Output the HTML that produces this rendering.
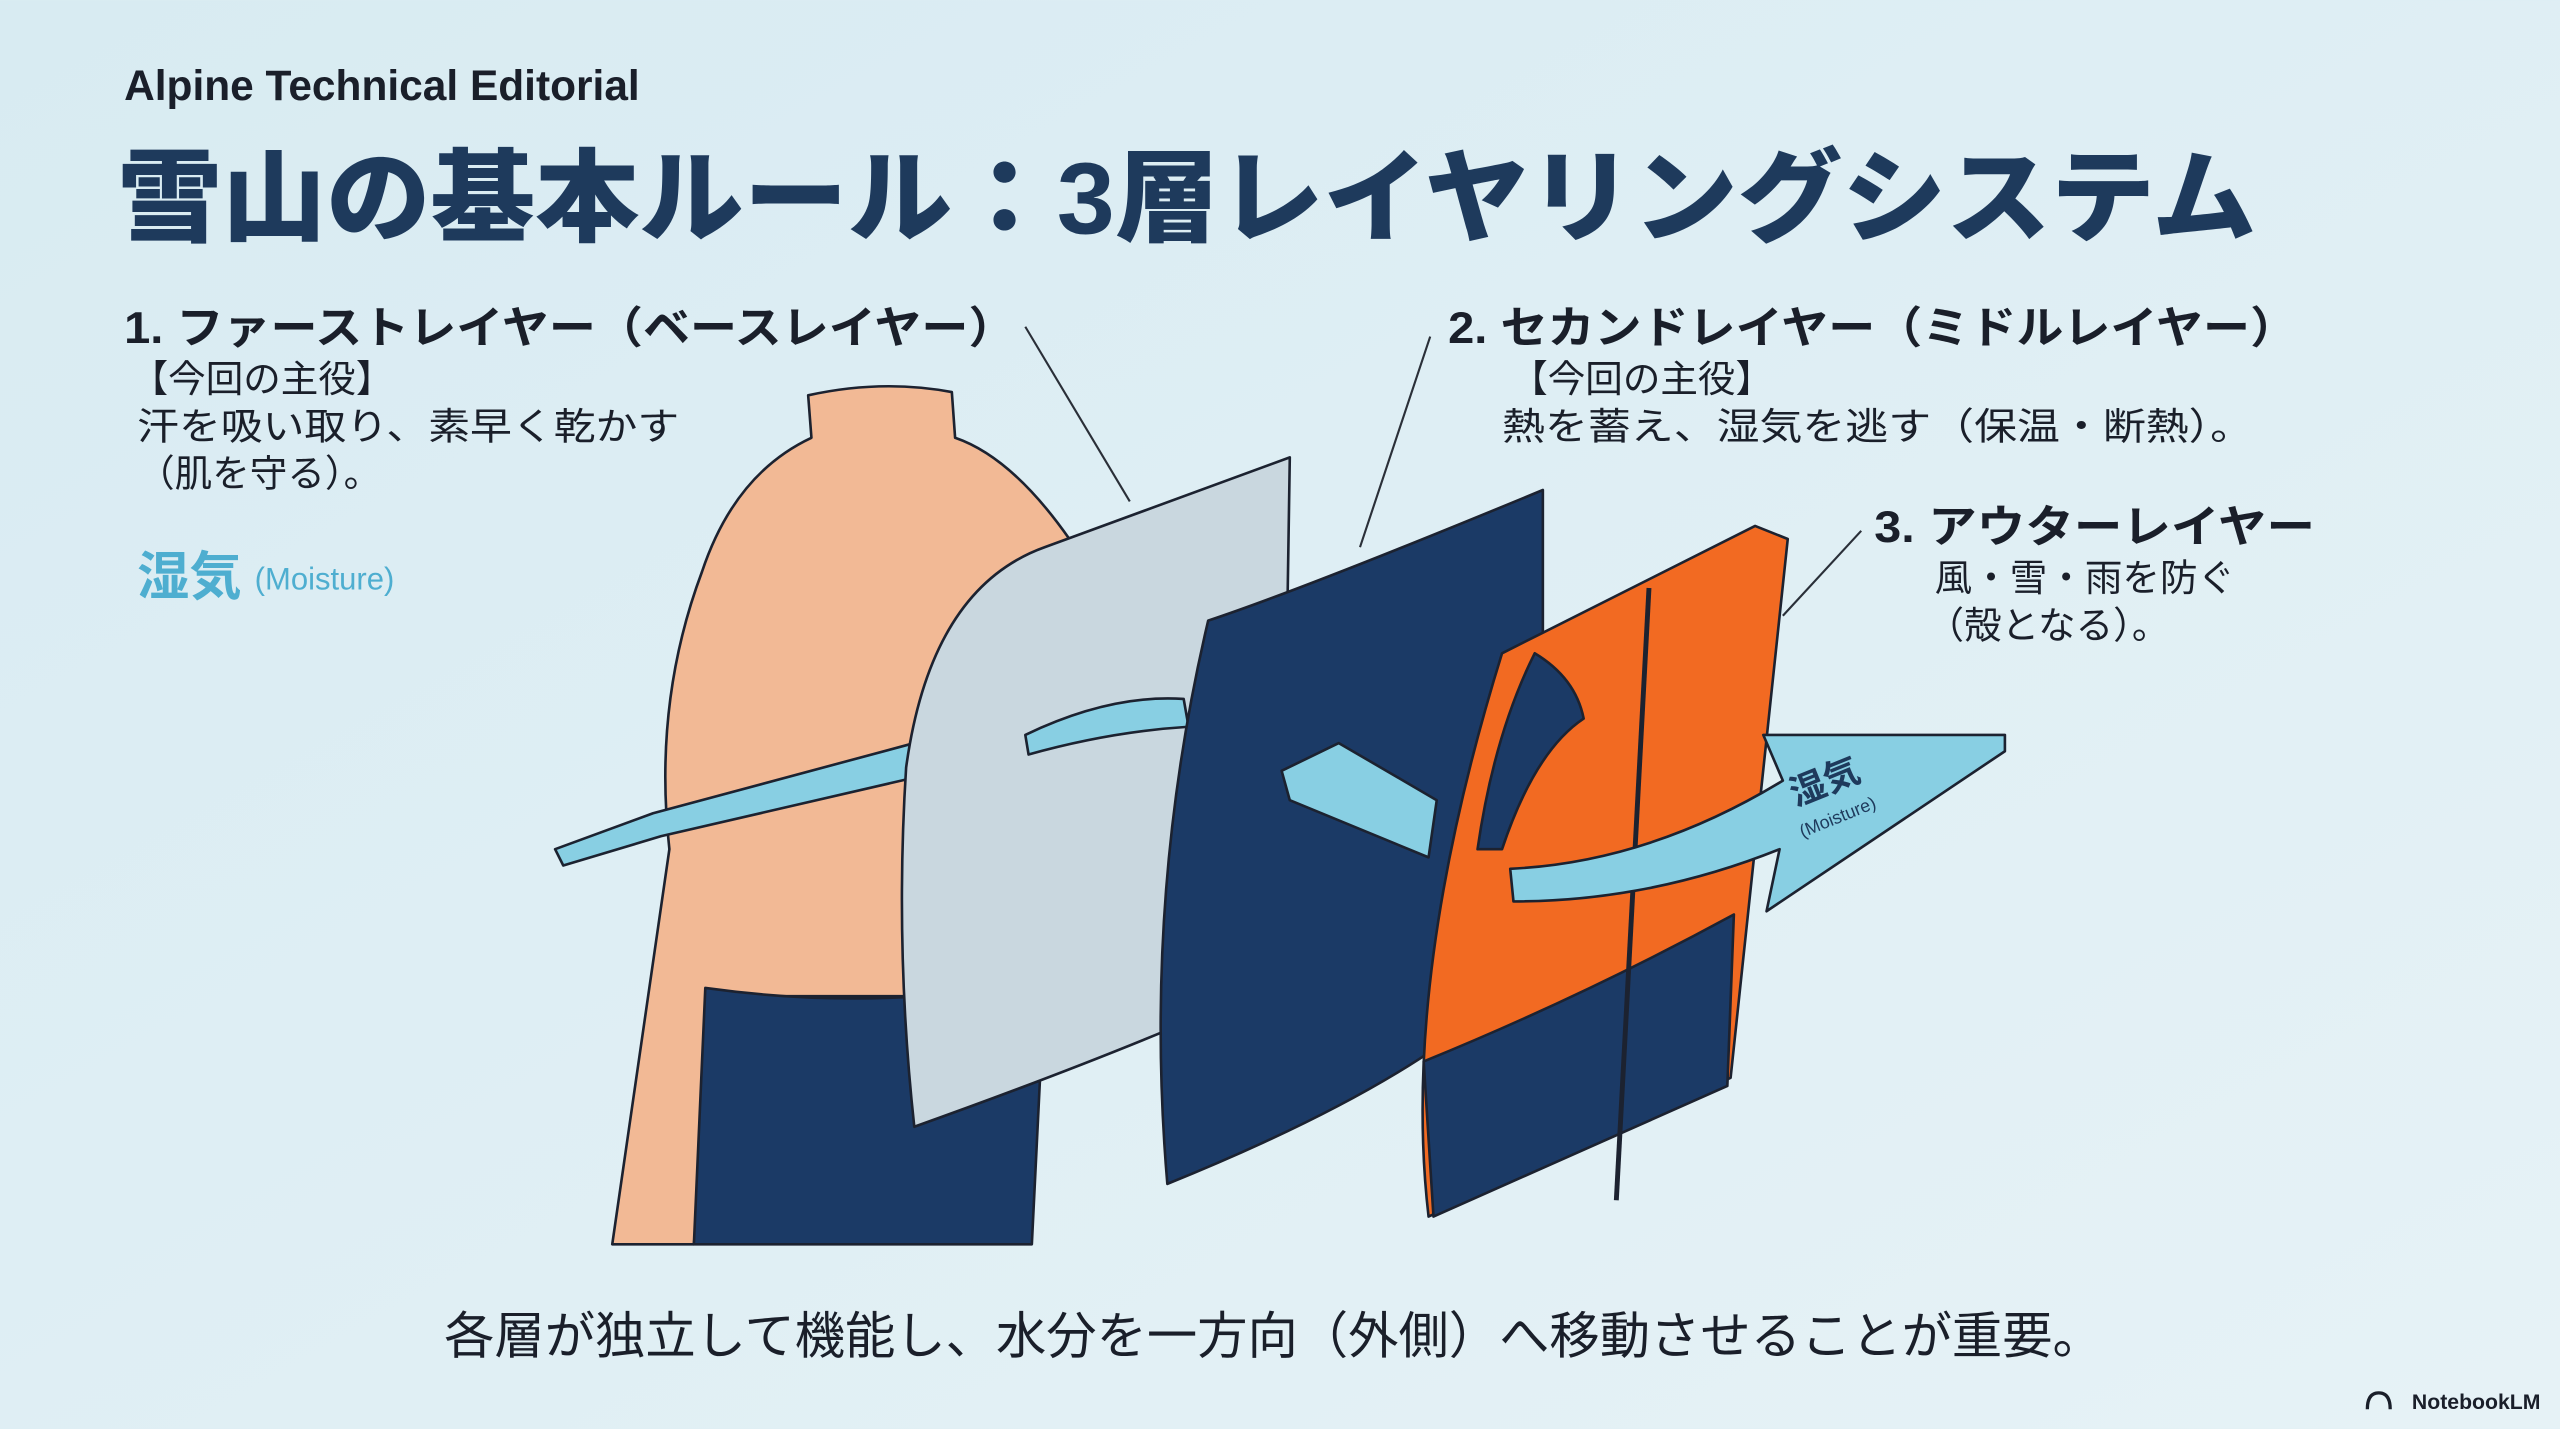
<!DOCTYPE html>
<html><head><meta charset="utf-8"><style>
html,body{margin:0;padding:0;}
body{width:2560px;height:1429px;overflow:hidden;background:#ddeef4;}
svg{display:block;}
text{font-family:"Liberation Sans","Noto Sans CJK JP",sans-serif;}
</style></head><body>
<svg width="2560" height="1429" viewBox="0 0 1568 875" xmlns="http://www.w3.org/2000/svg">
<defs><linearGradient id="bg" x1="0" y1="0" x2="1" y2="1"><stop offset="0" stop-color="#d8ebf2"/><stop offset="1" stop-color="#e6f2f6"/></linearGradient></defs>
<rect width="1568" height="875" fill="url(#bg)"/>
<text x="76" y="61" font-size="26" font-weight="700" fill="#1a1f2a">Alpine Technical Editorial</text>
<text x="72" y="143" font-size="62" font-weight="900" fill="#1e3a5c" textLength="1310" lengthAdjust="spacingAndGlyphs">雪山の基本ルール：3層レイヤリングシステム</text>

<g font-size="27" font-weight="700" fill="#1a1f2a">
<text x="76" y="210" textLength="546" lengthAdjust="spacingAndGlyphs">1. ファーストレイヤー（ベースレイヤー）</text>
<text x="887" y="210" textLength="520" lengthAdjust="spacingAndGlyphs">2. セカンドレイヤー（ミドルレイヤー）</text>
<text x="1148" y="332" textLength="270" lengthAdjust="spacingAndGlyphs">3. アウターレイヤー</text>
</g>
<g font-size="23" fill="#1a1f2a">
<text x="80" y="240">【今回の主役】</text>
<text x="84" y="269" textLength="332" lengthAdjust="spacingAndGlyphs">汗を吸い取り、素早く乾かす</text>
<text x="84" y="298">（肌を守る）。</text>
<text x="925" y="240">【今回の主役】</text>
<text x="920" y="269" textLength="460" lengthAdjust="spacingAndGlyphs">熱を蓄え、湿気を逃す（保温・断熱）。</text>
<text x="1185" y="362">風・雪・雨を防ぐ</text>
<text x="1180" y="391">（殻となる）。</text>
</g>
<text x="84" y="364" font-size="32" font-weight="700" fill="#4eaed0">湿気</text>
<text x="156" y="361" font-size="19" fill="#4eaed0">(Moisture)</text>

<g stroke="#2a2f38" stroke-width="1.3" fill="none">
<line x1="628" y1="200" x2="692" y2="307"/>
<line x1="876" y1="206" x2="833" y2="335"/>
<line x1="1140" y1="325" x2="1092" y2="377"/>
</g>

<g stroke="#1c2230" stroke-width="1.6" stroke-linejoin="round">
<path d="M497,268 Q450,290 430,350 Q400,430 410,520 L375,762 L425,762 L440,610 L640,610 L655,330 Q620,280 585,268 L583,240 Q540,232 495,242 Z" fill="#f2b995"/>
<path d="M432,605 Q540,620 640,600 L632,762 L425,762 Z" fill="#1b3a66"/>
<path d="M340,520 L400,498 L560,455 L565,475 L405,512 L345,530 Z" fill="#88cfe3"/>
<path d="M555,470 Q570,360 640,335 L790,280 L785,600 Q700,640 560,690 Q548,580 555,470Z" fill="#c9d7df"/>
<path d="M628,450 Q680,425 725,428 L728,445 Q680,448 630,462 Z" fill="#88cfe3"/>
<path d="M740,380 Q800,360 945,300 L945,580 Q900,650 715,725 Q700,550 740,380Z" fill="#1b3a66"/>
<path d="M785,472 L820,455 L880,490 L875,525 L790,490 Z" fill="#88cfe3"/>
<path d="M920,400 L1075,322 L1095,330 L1060,660 L875,745 Q858,600 920,400Z" fill="#f26a22"/>
<path d="M872,650 Q970,610 1062,560 L1058,665 L878,745 Z" fill="#1b3a66"/>
<path d="M940,400 Q965,415 970,440 Q940,460 920,520 L905,520 Q915,450 940,400Z" fill="#1b3a66"/>
<line x1="1010" y1="360" x2="990" y2="735" stroke-width="3"/>
<path d="M925,532 Q1010,528 1092,478 L1080,450 L1228,450 L1228,460 L1082,558 L1090,520 Q1010,552 927,552 Z" fill="#88cfe3"/>
</g>
<text x="0" y="0" font-size="22" font-weight="700" fill="#1e3a5c" transform="translate(1100,494) rotate(-22)">湿気</text>
<text x="0" y="0" font-size="11" fill="#1e3a5c" transform="translate(1104,513) rotate(-22)">(Moisture)</text>

<text x="780" y="829" font-size="31" fill="#1a1f2a" text-anchor="middle" textLength="1016" lengthAdjust="spacingAndGlyphs">各層が独立して機能し、水分を一方向（外側）へ移動させることが重要。</text>
<text x="1556" y="863" font-size="13" font-weight="700" fill="#1a1f2a" text-anchor="end">NotebookLM</text>
<path d="M1450,863 Q1450,853 1457,853 Q1464,853 1464,863" stroke="#1a1f2a" stroke-width="2" fill="none"/>
</svg>
</body></html>
